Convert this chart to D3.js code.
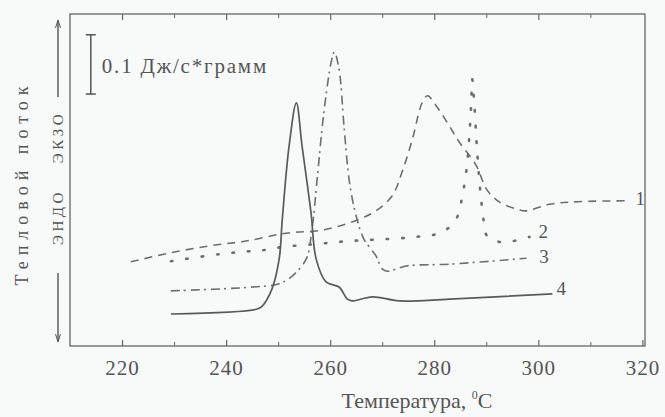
<!DOCTYPE html>
<html>
<head>
<meta charset="utf-8">
<script src="https://d3js.org/d3.v7.min.js"></script>
<style>
    body { margin: 0; background: #f8f9f9; }
    text { font-family: "Liberation Serif", "Times New Roman", Tinos, "Liberation Sans", sans-serif; fill: #555; }
</style>
</head>
<body>
<svg id="chart"></svg>
<script>
// data: [temperature °C, heat flow J/(s*g), arbitrary offset]
const curve1 = [[221.7,0.142],[229.2,0.157],[236.9,0.169],[243.8,0.177],[250.6,0.189],[253.5,0.192],
    [257.3,0.194],[261.2,0.201],[265.6,0.214],[268.8,0.228],[271.9,0.253],[273.8,0.293],[275.8,0.349],
    [277.7,0.411],[278.7,0.422],[280.4,0.405],[282.9,0.371],[284.8,0.344],[288.1,0.304],[290.0,0.265],
    [292.5,0.243],[295.8,0.231],[297.7,0.228],[302.1,0.239],[306.5,0.243],[317.5,0.245]];
const curve2 = [[229.4,0.143],[238.8,0.155],[244.8,0.160],[247.5,0.162],[250.8,0.167],[257.3,0.172],
    [263.7,0.177],[270.0,0.180],[276.5,0.184],[281.5,0.192],[284.2,0.214],[285.4,0.253],[286.2,0.298],
    [286.7,0.349],[287.1,0.408],[287.3,0.450],[287.7,0.408],[288.1,0.349],[288.5,0.298],[289.0,0.248],
    [289.6,0.206],[290.2,0.185],[293.1,0.175],[298.3,0.184]];
const curve3 = [[229.4,0.093],[244.4,0.099],[250.2,0.105],[252.7,0.118],[255.4,0.147],[256.5,0.197],
    [257.5,0.282],[258.8,0.395],[260.2,0.479],[260.8,0.496],[261.7,0.467],[262.7,0.366],[263.7,0.277],
    [265.0,0.219],[266.5,0.180],[268.8,0.152],[270.0,0.130],[271.0,0.126],[274.6,0.135],[282.9,0.138],
    [297.7,0.148]];
const curve4 = [[229.4,0.054],[245.8,0.062],[246.9,0.067],[248.8,0.096],[250.2,0.147],[250.8,0.214],
    [252.1,0.337],[253.5,0.410],[254.6,0.337],[256.3,0.226],[257.3,0.147],[259.2,0.108],[261.7,0.0995],
    [263.3,0.079],[264.2,0.076],[268.1,0.083],[273.3,0.076],[282.9,0.079],[302.7,0.088]];
const curveNames = ["1", "2", "3", "4"];
const xTicks = [220, 240, 260, 280, 300, 320];
const xMinor = [230, 250, 270, 290, 310];
const scaleBar = [214, 0.425, 0.1];   // temperature, bottom, length
const scaleLabel = "0.1 Дж/с*грамм";

const width = 665, height = 417;
const svg = d3.select("#chart").attr("width", width).attr("height", height);

const x = d3.scaleLinear().domain([210, 320.5]).range([70, 645]);
const y = d3.scaleLinear().domain([0, 0.56]).range([346, 14]);
const ink = "#666";

// frame
svg.append("rect")
   .attr("x", 70).attr("y", 14).attr("width", 575).attr("height", 332)
   .attr("fill", "none").attr("stroke", ink).attr("stroke-width", 1.3);

// bottom axis with inward ticks
let bot = svg.append("g").attr("transform", "translate(0,346)")
   .call(d3.axisBottom(x).tickValues(xTicks).tickSize(-6).tickPadding(14).tickFormat(d3.format("d")));
bot.select(".domain").remove();
bot.selectAll("line").attr("stroke", ink).attr("stroke-width", 1.2);
bot.selectAll("text").attr("font-size", 21).attr("letter-spacing", 1).attr("fill", "#555");
svg.append("g").attr("transform", "translate(0,346)")
   .call(d3.axisBottom(x).tickValues(xMinor).tickSize(-4).tickFormat(""))
   .call(g => g.select(".domain").remove())
   .selectAll("line").attr("stroke", ink);

// top axis ticks
svg.append("g").attr("transform", "translate(0,14)")
   .call(d3.axisTop(x).tickValues(xTicks.filter(d => d < 320)).tickSize(-6).tickFormat(""))
   .call(g => g.select(".domain").remove())
   .selectAll("line").attr("stroke", ink).attr("stroke-width", 1.2);
svg.append("g").attr("transform", "translate(0,14)")
   .call(d3.axisTop(x).tickValues(xMinor).tickSize(-4).tickFormat(""))
   .call(g => g.select(".domain").remove())
   .selectAll("line").attr("stroke", ink);

// curves
const line = d3.line().x(d => x(d[0])).y(d => y(d[1])).curve(d3.curveCatmullRom.alpha(0.5));
const styles = [
    {dash: "8,6", w: 1.6, cap: "butt", dx: 6, dy: 4},
    {dash: "1.5,14", w: 2.6, cap: "round", dx: 9, dy: 1},
    {dash: "9,4,2,5", w: 1.6, cap: "butt", dx: 13, dy: 5},
    {dash: null, w: 1.7, cap: "butt", dx: 4, dy: 1}
];
[curve1, curve2, curve3, curve4].forEach((c, i) => {
    const s = styles[i];
    svg.append("path")
       .attr("d", line(c))
       .attr("fill", "none")
       .attr("stroke", i == 3 ? "#5a5a5a" : "#6e6e6e")
       .attr("stroke-width", s.w)
       .attr("stroke-linecap", s.cap)
       .attr("stroke-dasharray", s.dash);
    const last = c[c.length - 1];
    svg.append("text")
       .attr("x", x(last[0]) + s.dx).attr("y", y(last[1]) + s.dy)
       .attr("font-size", 19)
       .text(curveNames[i]);
});

// scale bar
const sbx = x(scaleBar[0]);
const sb = svg.append("g").attr("stroke", "#555").attr("stroke-width", 1.5);
sb.append("line").attr("x1", sbx).attr("x2", sbx)
  .attr("y1", y(scaleBar[1])).attr("y2", y(scaleBar[1] + scaleBar[2]));
[scaleBar[1], scaleBar[1] + scaleBar[2]].forEach(v => {
    sb.append("line").attr("x1", sbx - 5).attr("x2", sbx + 5).attr("y1", y(v)).attr("y2", y(v));
});
svg.append("text").attr("x", sbx + 11).attr("y", 73).attr("font-size", 21)
   .attr("letter-spacing", 1.8).text(scaleLabel);

// x title
let xt = svg.append("text").attr("x", 417).attr("y", 408).attr("text-anchor", "middle")
   .attr("font-size", 22);
xt.append("tspan").text("Температура, ");
xt.append("tspan").attr("font-size", 12).attr("dy", -9).text("0");
xt.append("tspan").attr("dy", 9).text("C");

// y titles
svg.append("text").attr("transform", "translate(28,183) rotate(-90)")
   .attr("text-anchor", "middle").attr("font-size", 18).attr("letter-spacing", 6)
   .text("Тепловой поток");
svg.append("text").attr("transform", "translate(63,217) rotate(-90)")
   .attr("text-anchor", "middle").attr("font-size", 15).attr("letter-spacing", 3.5)
   .text("ЭНДО");
svg.append("text").attr("transform", "translate(63,137) rotate(-90)")
   .attr("text-anchor", "middle").attr("font-size", 15).attr("letter-spacing", 3.5)
   .text("ЭКЗО");

// arrows
const arr = svg.append("g").attr("stroke", "#555").attr("stroke-width", 1.4).attr("fill", "none");
arr.append("line").attr("x1", 58).attr("x2", 58).attr("y1", 21).attr("y2", 97);
arr.append("line").attr("x1", 58).attr("x2", 58).attr("y1", 273).attr("y2", 341);
arr.append("path").attr("d", "M55.5,28 L58,20 L60.5,28").attr("stroke-width", 1);
arr.append("path").attr("d", "M55.5,334 L58,342 L60.5,334").attr("stroke-width", 1);
</script>
</body>
</html>
